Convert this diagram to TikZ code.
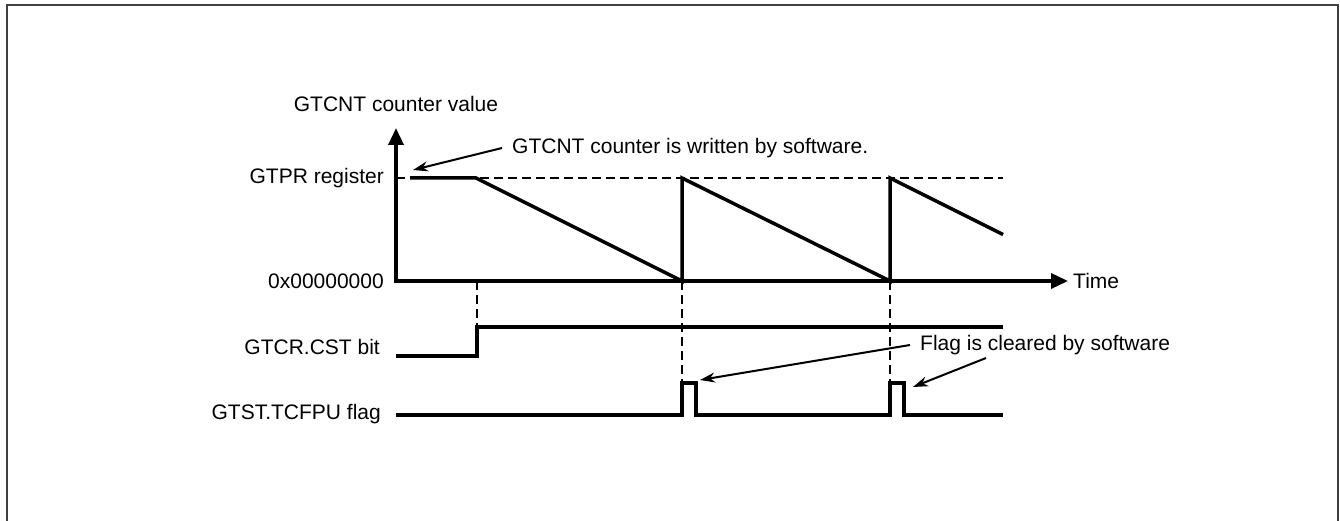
\documentclass[tikz,border=0pt]{standalone}
\usepackage{fontspec}
\setmainfont{Liberation Sans}
\usetikzlibrary{arrows.meta,positioning}

\begin{document}
\begin{tikzpicture}[x=1pt, y=-1pt, >=Stealth,
    every node/.style={font=\fontsize{21}{25}\selectfont, inner sep=0pt},
    wave/.style={line width=3.5pt, line join=miter},
    guide/.style={line width=2.5pt, dash pattern=on 9pt off 5pt},
    axis/.style={line width=3.5pt, -{Triangle[length=17pt,width=15pt]}},
    callout/.style={line width=2pt, -{Stealth[length=15pt,width=10pt]}}]
    \useasboundingbox (0,0) rectangle (1340,521);
    \draw[line width=2pt, black!75] (7,521) -- (7,5) -- (1338,5) -- (1338,521);

    % axes
    \coordinate (origin) at (396,281);
    \coordinate (ytip) at (396,128);
    \coordinate (xtip) at (1068,281);
    \draw[axis] (origin) -- (ytip);
    \draw[axis] ([xshift=-1.75pt]origin) -- (xtip);
    
    \node[anchor=south] (lblcnt) at (396,112) {GTCNT counter value};
    \node[anchor=west] (lbltime) at (1073,281) {Time};
    \node[anchor=east] (lblgtpr) at (384,178) {GTPR register};
    \node[anchor=east] (lblzero) at (384,281) {0x00000000};
    \node[anchor=east] (lblcst) at (380,347) {GTCR.CST bit};
    \node[anchor=east] (lblflag) at (381,414) {GTST.TCFPU flag};

    % counter
    \draw[guide] (origin |- lblgtpr) -- (1003,178);
    \draw[wave] (410,178) -- (476,178) -- (682,281) -- (682,178) -- (890,281) -- (890,178) -- (1003,234.5);

    % GTCR.CST
    \draw[wave] (396,356) -- (477,356) -- (477,327) -- (1003,327);

    % GTST.TCFPU
    \draw[wave] (396,415) -- (682,415) -- (682,383) -- (696,383) -- (696,415)
      -- (890,415) -- (890,383) -- (904,383) -- (904,415) -- (1003,415);

    \foreach \x/\y in {477/327, 682/383, 890/383} {
      \draw[guide] (\x,281) -- (\x,\y);
    }

    % callouts
    \node[anchor=west, inner xsep=10pt] (noteWrite) at (502,148) {GTCNT counter is written by software.};
    \node[anchor=west, inner xsep=10pt] (noteFlag) at (910,345) {Flag is cleared by software};
    \coordinate (writeTip) at (413,170);
    \coordinate (flagTipA) at (700,380);
    \coordinate (flagFoot) at (986,358);
    \coordinate (flagTipB) at (913,387);
    \draw[callout] (noteWrite.west) -- (writeTip);
    \draw[callout] (noteFlag.west) -- (flagTipA);
    \draw[callout] (flagFoot) -- (flagTipB);
\end{tikzpicture}
\end{document}
